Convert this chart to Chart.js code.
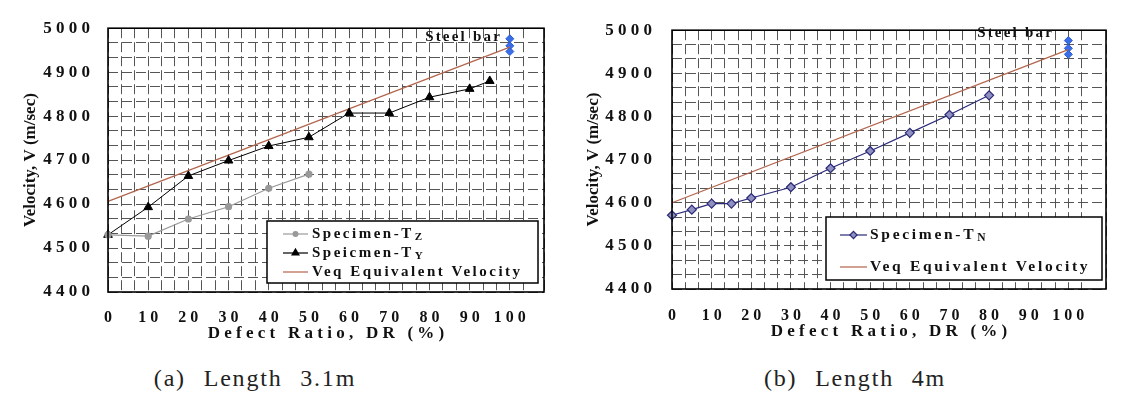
<!DOCTYPE html>
<html>
<head>
<meta charset="utf-8">
<script src="https://cdn.jsdelivr.net/npm/chart.js@4.4.0/dist/chart.umd.min.js"></script>
<style>
body{margin:0;background:#fff;width:1123px;height:405px;position:relative;overflow:hidden}
canvas{position:absolute;top:0}
#chartA{left:0}
#chartB{left:560px}
.cap{position:absolute;top:366px;line-height:24px;font-family:'Liberation Serif','Times New Roman',serif;font-size:24px;color:#222;letter-spacing:1.8px;word-spacing:10px;white-space:nowrap;transform:translateX(-50%)}
</style>
</head>
<body>
<canvas id="chartA" width="560" height="345"></canvas>
<canvas id="chartB" width="563" height="345"></canvas>
<div class="cap" style="left:255px">(a) Length 3.1m</div>
<div class="cap" style="left:855px">(b) Length 4m</div>
<script>
// tick labels
const xTickLabels = [0, 10, 20, 30, 40, 50, 60, 70, 80, 90, 100];
const yTickLabels = [4400, 4500, 4600, 4700, 4800, 4900, 5000];

// (a) length 3.1m
const tzDR = [0, 10, 20, 30, 40, 50];
const tzV = [4530, 4527, 4566, 4594, 4636, 4668];
const tyDR = [0, 10, 20, 30, 40, 50, 60, 70, 80, 90, 95];
const tyV = [4530, 4593, 4664, 4699, 4732, 4752, 4807, 4807, 4843, 4862, 4880];
const veqDR_A = [0, 100];
const veqV_A = [4606, 4957];
const steelDR_A = [100, 100, 100];
const steelV_A = [4976, 4960, 4947];

// (b) length 4m
const tnDR = [0, 5, 10, 15, 20, 30, 40, 50, 60, 70, 80];
const tnV = [4571, 4584, 4598, 4598, 4611, 4636, 4680, 4720, 4762, 4804, 4849];
const veqDR_B = [0, 100];
const veqV_B = [4600, 4955];
const steelDR_B = [100, 100, 100];
const steelV_B = [4976, 4958, 4944];

const FONT = "'Liberation Serif', 'Times New Roman', serif";

function pts(xs, ys){
  return xs.map((x, i) => ({x: x, y: ys[i]}));
}

function spaced(s){
  return String(s).split('').join(' ');
}

function isLabel(v, list){
  return list.find(t => Math.abs(t - v) < 1e-6);
}

// frame, legend box and "Steel bar" text
const boxPlugin = {
  id: 'boxLegend',
  afterDatasetsDraw(chart){
    const a = chart.chartArea;
    const ctx = chart.ctx;
    ctx.save();
    ctx.strokeStyle = '#000';
    ctx.lineWidth = 1.6;
    ctx.strokeRect(a.left, a.top, a.right - a.left, a.bottom - a.top);
    ctx.restore();
  },
  afterDraw(chart, args, opts){
    const ctx = chart.ctx;
    ctx.save();
    ctx.fillStyle = '#fff';
    ctx.fillRect(opts.x, opts.y, opts.w, opts.h);
    ctx.strokeStyle = '#000';
    ctx.lineWidth = 1.5;
    ctx.strokeRect(opts.x, opts.y, opts.w, opts.h);
    ctx.letterSpacing = opts.spacing + 'px';
    opts.items.forEach(it => {
      const ds = chart.data.datasets[it.ds];
      ctx.strokeStyle = ds.borderColor;
      ctx.lineWidth = 1.2;
      ctx.beginPath();
      ctx.moveTo(opts.lx0, it.y);
      ctx.lineTo(opts.lx1, it.y);
      ctx.stroke();
      if (ds.pointRadius > 0) {
        ctx.fillStyle = ds.pointBackgroundColor;
        ctx.strokeStyle = ds.pointBorderColor;
        Chart.helpers.drawPoint(ctx, {pointStyle: ds.pointStyle, radius: ds.pointRadius * 0.8, rotation: 0, borderWidth: 1},
          (opts.lx0 + opts.lx1) / 2, it.y);
      }
      ctx.fillStyle = '#111';
      ctx.textBaseline = 'middle';
      ctx.textAlign = 'left';
      ctx.font = 'bold ' + opts.size + 'px ' + FONT;
      ctx.fillText(it.text, opts.tx, it.y);
      if (it.sub) {
        const w = ctx.measureText(it.text).width;
        ctx.font = 'bold ' + (opts.size - 4) + 'px ' + FONT;
        ctx.fillText(it.sub, opts.tx + w + 1, it.y + 3);
      }
    });
    ctx.letterSpacing = '2.2px';
    ctx.font = 'bold 15px ' + FONT;
    ctx.fillStyle = '#111';
    ctx.textAlign = 'right';
    ctx.textBaseline = 'middle';
    ctx.fillText('Steel bar', opts.steelX, opts.steelY);
    ctx.restore();
  }
};

function makeChart(id, datasets, lay){
  return new Chart(document.getElementById(id), {
    type: 'line',
    data: {datasets: datasets},
    options: {
      responsive: false,
      animation: false,
      layout: {padding: {top: lay.top, right: lay.right, left: 0, bottom: 0}},
      plugins: {
        legend: {display: false},
        tooltip: {enabled: false},
        boxLegend: lay.legend
      },
      scales: {
        x: {
          type: 'linear',
          min: 0,
          max: lay.xmax,
          afterFit: s => { s.height = lay.xh; },
          ticks: {
            stepSize: 10 / 3,
            autoSkip: false,
            maxRotation: 0,
            padding: lay.xpad,
            color: '#111',
            font: {family: FONT, size: 16, weight: 'bold'},
            callback: v => { const t = isLabel(v, xTickLabels); return t !== undefined ? spaced(t) : ''; }
          },
          grid: {color: '#555', lineWidth: 1, drawTicks: false},
          border: {display: false, dash: [10, 4]},
          title: {
            display: true,
            text: spaced('Defect Ratio, DR (%)'),
            color: '#111',
            font: {family: FONT, size: 17, weight: 'bold'},
            padding: {top: 0, bottom: lay.xtitle}
          }
        },
        y: {
          min: 4400,
          max: 5000,
          afterFit: s => { s.width = lay.yw; },
          ticks: {
            stepSize: 100 / 3,
            autoSkip: false,
            padding: lay.ypad,
            color: '#111',
            font: {family: FONT, size: 17, weight: 'bold'},
            callback: v => { const t = isLabel(v, yTickLabels); return t !== undefined ? spaced(t) : ''; }
          },
          grid: {color: '#555', lineWidth: 1, drawTicks: false},
          border: {display: false, dash: [10, 4]},
          title: {
            display: true,
            text: 'Velocity, V (m/sec)',
            color: '#111',
            font: {family: FONT, size: 17, weight: 'bold'},
            padding: {top: lay.ytitle, bottom: 0}
          }
        }
      }
    },
    plugins: [boxPlugin]
  });
}

const veqColor = '#b2654c';

makeChart('chartA', [
  {label: 'Specimen-TZ', data: pts(tzDR, tzV), borderColor: '#999', borderWidth: 1.2,
   pointStyle: 'circle', pointRadius: 3, pointBackgroundColor: '#999', pointBorderColor: '#999', clip: false},
  {label: 'Speicmen-TY', data: pts(tyDR, tyV), borderColor: '#000', borderWidth: 1,
   pointStyle: 'triangle', pointRadius: 5, pointBackgroundColor: '#000', pointBorderColor: '#000', clip: false},
  {label: 'Veq Equivalent Velocity', data: pts(veqDR_A, veqV_A), borderColor: veqColor, borderWidth: 1.2,
   pointRadius: 0, clip: false},
  {label: 'Steel bar', data: pts(steelDR_A, steelV_A), showLine: false, borderColor: '#3a6ee8',
   pointStyle: 'rectRot', pointRadius: 4, pointBackgroundColor: '#3a6ee8', pointBorderColor: '#2a5ad0', clip: false}
], {
  top: 21, right: 12, xmax: 108.5, xh: 53, yw: 108, xpad: 16, ypad: 18, xtitle: 1, ytitle: 20,
  legend: {
    x: 267, y: 221, w: 271, h: 62, lx0: 283, lx1: 308, tx: 312, size: 15, spacing: 2.5,
    steelX: 502, steelY: 37,
    items: [
      {ds: 0, text: 'Specimen-T', sub: 'Z', y: 234},
      {ds: 1, text: 'Speicmen-T', sub: 'Y', y: 253},
      {ds: 2, text: 'Veq Equivalent Velocity', y: 272}
    ]
  }
});

makeChart('chartB', [
  {label: 'Specimen-TN', data: pts(tnDR, tnV), borderColor: '#2a2a78', borderWidth: 1.2,
   pointStyle: 'rectRot', pointRadius: 4.5, pointBackgroundColor: '#8f8fc0', pointBorderColor: '#2a2a78', clip: false},
  {label: 'Veq Equivalent Velocity', data: pts(veqDR_B, veqV_B), borderColor: veqColor, borderWidth: 1.2,
   pointRadius: 0, clip: false},
  {label: 'Steel bar', data: pts(steelDR_B, steelV_B), showLine: false, borderColor: '#3a6ee8',
   pointStyle: 'rectRot', pointRadius: 4, pointBackgroundColor: '#3a6ee8', pointBorderColor: '#2a5ad0', clip: false}
], {
  top: 18, right: 11, xmax: 109.5, xh: 56, yw: 112, xpad: 17, ypad: 20, xtitle: 3, ytitle: 23,
  legend: {
    x: 266, y: 217, w: 276, h: 63, lx0: 280, lx1: 307, tx: 310, size: 15.5, spacing: 2.7,
    steelX: 494, steelY: 33,
    items: [
      {ds: 0, text: 'Specimen-T', sub: 'N', y: 235},
      {ds: 1, text: 'Veq Equivalent Velocity', y: 267}
    ]
  }
});
</script>
</body>
</html>
